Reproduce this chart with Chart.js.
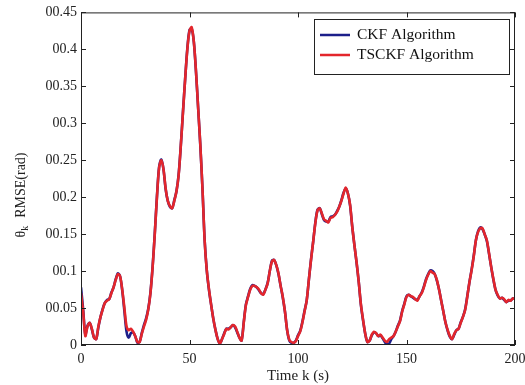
<!DOCTYPE html>
<html>
<head>
<meta charset="utf-8">
<script src="https://cdn.jsdelivr.net/npm/chart.js@4/dist/chart.umd.min.js"></script>
<style>
  html, body { margin: 0; padding: 0; background: #fff; }
  #wrap { width: 525px; height: 385px; }
</style>
</head>
<body>
<div id="wrap"><canvas id="rmseChart" width="525" height="385"></canvas></div>
<script>
// time base in seconds, one sample per second
const timeK = Array.from({ length: 201 }, (_, i) => i);

// theta_k RMSE (rad)
const tsckfRmse = [
  0.070, 0.045, 0.012, 0.025, 0.030, 0.022, 0.010, 0.008, 0.025, 0.038,
  0.048, 0.057, 0.060, 0.062, 0.070, 0.078, 0.088, 0.096, 0.093, 0.075,
  0.050, 0.025, 0.020, 0.022, 0.018, 0.012, 0.004, 0.004, 0.015, 0.025,
  0.034, 0.048, 0.070, 0.105, 0.150, 0.200, 0.240, 0.250, 0.238, 0.212,
  0.195, 0.188, 0.185, 0.195, 0.208, 0.230, 0.270, 0.315, 0.360, 0.400,
  0.425, 0.430, 0.410, 0.370, 0.320, 0.270, 0.210, 0.140, 0.100, 0.075,
  0.054, 0.035, 0.020, 0.008, 0.002, 0.008, 0.015, 0.022, 0.021, 0.024,
  0.027, 0.025, 0.018, 0.010, 0.006, 0.030, 0.054, 0.065, 0.075, 0.080,
  0.080, 0.078, 0.075, 0.070, 0.068, 0.075, 0.083, 0.100, 0.113, 0.115,
  0.108, 0.097, 0.080, 0.065, 0.045, 0.020, 0.007, 0.004, 0.003, 0.005,
  0.012, 0.018, 0.030, 0.045, 0.060, 0.088, 0.115, 0.140, 0.165, 0.182,
  0.185, 0.178, 0.170, 0.168, 0.166, 0.172, 0.173, 0.176, 0.180, 0.187,
  0.195, 0.205, 0.213, 0.205, 0.190, 0.160, 0.135, 0.112, 0.085, 0.055,
  0.034, 0.015, 0.004, 0.006, 0.014, 0.018, 0.016, 0.012, 0.014, 0.010,
  0.006, 0.004, 0.008, 0.010, 0.012, 0.018, 0.025, 0.032, 0.045, 0.055,
  0.065, 0.068, 0.066, 0.065, 0.062, 0.060, 0.066, 0.070, 0.078, 0.088,
  0.095, 0.100, 0.098, 0.096, 0.088, 0.075, 0.060, 0.045, 0.030, 0.020,
  0.012, 0.008, 0.015, 0.020, 0.022, 0.030, 0.038, 0.047, 0.065, 0.085,
  0.101, 0.120, 0.142, 0.153, 0.158, 0.158, 0.150, 0.142, 0.125, 0.106,
  0.090, 0.075, 0.068, 0.063, 0.064, 0.062, 0.058, 0.061, 0.060, 0.063,
  0.062
];

const ckfRmse = [
  0.078, 0.048, 0.014, 0.026, 0.030, 0.021, 0.010, 0.008, 0.024, 0.038,
  0.049, 0.057, 0.061, 0.062, 0.071, 0.078, 0.089, 0.097, 0.093, 0.074,
  0.046, 0.018, 0.010, 0.016, 0.017, 0.012, 0.003, 0.004, 0.016, 0.027,
  0.036, 0.049, 0.071, 0.106, 0.151, 0.201, 0.241, 0.251, 0.238, 0.211,
  0.195, 0.187, 0.185, 0.196, 0.208, 0.231, 0.270, 0.316, 0.360, 0.401,
  0.426, 0.428, 0.410, 0.369, 0.320, 0.269, 0.210, 0.141, 0.100, 0.074,
  0.054, 0.035, 0.020, 0.008, 0.002, 0.008, 0.016, 0.022, 0.022, 0.024,
  0.027, 0.024, 0.017, 0.010, 0.006, 0.031, 0.055, 0.066, 0.076, 0.081,
  0.080, 0.078, 0.074, 0.070, 0.069, 0.075, 0.084, 0.100, 0.114, 0.115,
  0.108, 0.096, 0.080, 0.064, 0.045, 0.020, 0.006, 0.003, 0.003, 0.006,
  0.013, 0.019, 0.031, 0.046, 0.060, 0.088, 0.116, 0.140, 0.166, 0.183,
  0.185, 0.177, 0.169, 0.167, 0.167, 0.173, 0.174, 0.176, 0.181, 0.187,
  0.196, 0.206, 0.212, 0.205, 0.189, 0.160, 0.135, 0.111, 0.085, 0.054,
  0.033, 0.015, 0.004, 0.006, 0.013, 0.017, 0.016, 0.012, 0.013, 0.009,
  0.004, 0.001, 0.002, 0.008, 0.012, 0.018, 0.026, 0.033, 0.046, 0.056,
  0.066, 0.068, 0.066, 0.064, 0.062, 0.061, 0.066, 0.071, 0.079, 0.089,
  0.096, 0.101, 0.100, 0.096, 0.087, 0.075, 0.060, 0.045, 0.030, 0.019,
  0.011, 0.008, 0.014, 0.020, 0.022, 0.031, 0.038, 0.048, 0.066, 0.085,
  0.102, 0.121, 0.142, 0.154, 0.159, 0.157, 0.150, 0.141, 0.124, 0.106,
  0.089, 0.075, 0.067, 0.063, 0.064, 0.061, 0.058, 0.060, 0.060, 0.063,
  0.062
];

const xTicks = [0, 50, 100, 150, 200];
const yTicks = [0, 0.05, 0.1, 0.15, 0.2, 0.25, 0.3, 0.35, 0.4, 0.45];
const seriesNames = ['CKF Algorithm', 'TSCKF Algorithm'];
const seriesColors = ['#1c1f8a', '#e3262c'];

const serif = "'Liberation Serif', 'Times New Roman', serif";

// MATLAB look: box round the axes, inward ticks on all four sides, legend box
const matlabFrame = {
  id: 'matlabFrame',
  afterDraw(chart) {
    const { ctx, chartArea: a, scales } = chart;
    const tl = 5;
    ctx.save();
    ctx.strokeStyle = '#222';
    ctx.lineWidth = 1;
    ctx.strokeRect(a.left + 0.5, a.top + 0.5, a.right - a.left - 1, a.bottom - a.top - 1);
    ctx.beginPath();
    xTicks.forEach(v => {
      const px = Math.round(scales.x.getPixelForValue(v)) + 0.5;
      ctx.moveTo(px, a.bottom); ctx.lineTo(px, a.bottom - tl);
      ctx.moveTo(px, a.top); ctx.lineTo(px, a.top + tl);
    });
    yTicks.forEach(v => {
      const py = Math.round(scales.y.getPixelForValue(v)) + 0.5;
      ctx.moveTo(a.left, py); ctx.lineTo(a.left + tl, py);
      ctx.moveTo(a.right, py); ctx.lineTo(a.right - tl, py);
    });
    ctx.stroke();

    // legend
    const lx = 314, ly = 19, lw = 195, lh = 55;
    ctx.fillStyle = '#fff';
    ctx.fillRect(lx, ly, lw, lh);
    ctx.strokeStyle = '#222';
    ctx.strokeRect(lx + 0.5, ly + 0.5, lw, lh);
    ctx.font = '15.5px ' + serif;
    ctx.textBaseline = 'middle';
    seriesNames.forEach((name, i) => {
      const y = ly + 16 + i * 20;
      ctx.strokeStyle = seriesColors[i];
      ctx.lineWidth = 2.5;
      ctx.beginPath();
      ctx.moveTo(lx + 6, y); ctx.lineTo(lx + 36, y);
      ctx.stroke();
      ctx.fillStyle = '#111';
      ctx.fillText(name, lx + 43, y);
    });

    // y axis title
    ctx.translate(20, 195);
    ctx.rotate(-Math.PI / 2);
    ctx.fillStyle = '#222';
    ctx.textBaseline = 'alphabetic';
    ctx.textAlign = 'left';
    ctx.font = '14px ' + serif;
    const totalW = ctx.measureText('θ').width + 6 + ctx.measureText('  RMSE(rad)').width;
    let cx = -totalW / 2;
    ctx.fillText('θ', cx, 5);
    cx += ctx.measureText('θ').width;
    ctx.font = '10px ' + serif;
    ctx.fillText('k', cx, 8);
    cx += 6;
    ctx.font = '14px ' + serif;
    ctx.fillText('  RMSE(rad)', cx, 5);
    ctx.restore();
  }
};

new Chart(document.getElementById('rmseChart'), {
  type: 'line',
  data: {
    datasets: [
      {
        label: seriesNames[0],
        data: timeK.map((t, i) => ({ x: t, y: ckfRmse[i] })),
        borderColor: seriesColors[0],
        borderWidth: 2.6,
        pointRadius: 0,
        tension: 0.3,
        order: 2
      },
      {
        label: seriesNames[1],
        data: timeK.map((t, i) => ({ x: t, y: tsckfRmse[i] })),
        borderColor: seriesColors[1],
        borderWidth: 2.6,
        pointRadius: 0,
        tension: 0.3,
        order: 1
      }
    ]
  },
  options: {
    responsive: false,
    animation: false,
    devicePixelRatio: 1,
    layout: { padding: { top: 12, right: 10, left: 0, bottom: 0 } },
    plugins: { legend: { display: false }, tooltip: { enabled: false } },
    scales: {
      x: {
        type: 'linear',
        min: 0, max: 200,
        afterBuildTicks: s => { s.ticks = xTicks.map(v => ({ value: v })); },
        afterFit: s => { s.height = 40; s.paddingRight = 0; },
        grid: { display: false, drawTicks: false },
        border: { display: false },
        ticks: { autoSkip: false, color: '#222', padding: 6, font: { family: serif, size: 14 }, maxRotation: 0 },
        title: { display: true, text: 'Time k (s)', color: '#222', padding: { top: 0, bottom: 0 }, font: { family: serif, size: 15 } }
      },
      y: {
        min: 0, max: 0.45,
        afterBuildTicks: s => { s.ticks = yTicks.map(v => ({ value: v })); },
        afterFit: s => { s.width = 81; },
        grid: { display: false, drawTicks: false },
        border: { display: false },
        ticks: {
          autoSkip: false,
          color: '#222', padding: 4, font: { family: serif, size: 14 },
          callback: v => v === 0 ? '0' : '0' + parseFloat(v.toFixed(2))
        }
      }
    }
  },
  plugins: [matlabFrame]
});
</script>
</body>
</html>
